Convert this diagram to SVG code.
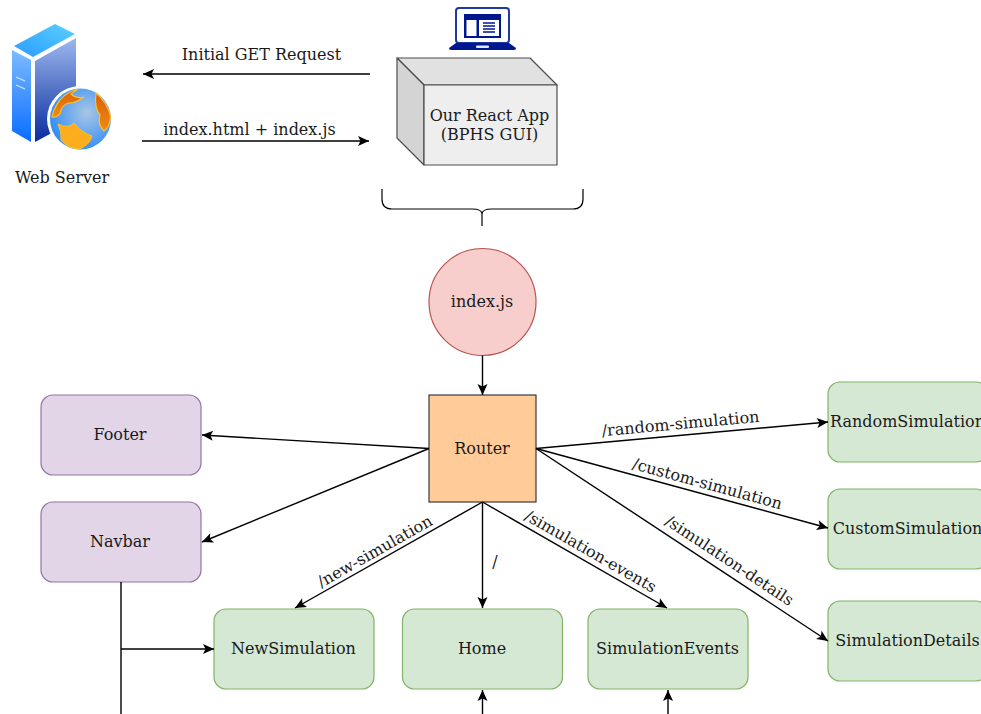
<svg xmlns="http://www.w3.org/2000/svg" width="981" height="714" viewBox="0 0 981 714">
<style>
text{font-family:"DejaVu Serif","Liberation Serif",serif;font-size:16px;fill:#1a1a1a;text-anchor:middle}
.c{fill:none;stroke:#000;stroke-width:1.4;marker-end:url(#a)}
.g{fill:#d5e8d4;stroke:#82b366;stroke-width:1.2}
.p{fill:#e1d5e7;stroke:#9673a6;stroke-width:1.2}
</style>
<defs>
<marker id="a" markerUnits="userSpaceOnUse" markerWidth="14" markerHeight="12" refX="12" refY="6" orient="auto"><path d="M1 1 L12 6 L1 11 L3.5 6 Z" fill="#000"/></marker>
<linearGradient id="s1" x1="0" y1="0" x2="0" y2="1"><stop offset="0" stop-color="#7cbcff"/><stop offset="1" stop-color="#0a6cff"/></linearGradient>
<linearGradient id="s2" x1="0" y1="0" x2="0" y2="1"><stop offset="0" stop-color="#9db8ee"/><stop offset="1" stop-color="#082c9e"/></linearGradient>
<linearGradient id="s3" x1="0" y1="1" x2="1" y2="0"><stop offset="0" stop-color="#2a9bff"/><stop offset="1" stop-color="#5cd0ff"/></linearGradient>
<radialGradient id="g1" cx="0.6" cy="0.4" r="0.65"><stop offset="0" stop-color="#a9c6e4"/><stop offset="1" stop-color="#2f8cf5"/></radialGradient>
<linearGradient id="g2" x1="0" y1="0" x2="0" y2="1"><stop offset="0" stop-color="#d9600c"/><stop offset="1" stop-color="#f08a10"/></linearGradient>
</defs>

<g id="web-server">
<path d="M14 46 L55 24 L75 34 L33 57 Z" fill="url(#s3)"/>
<path d="M12 50 L31 60 L31 142 L12 131 Z" fill="url(#s1)"/>
<path d="M35 61 L76 38 L76 120 L35 142 Z" fill="url(#s2)"/>
<path d="M16 77 L25 81 M16 85 L25 89" stroke="#cfe4ff" stroke-width="1.3" fill="none"/>
<circle cx="80" cy="119" r="33" fill="#fff"/>
<circle cx="80.500" cy="119" r="30.500" fill="url(#g1)"/>
<path d="M56 106 Q63 93 78 89 L71 94 Q76 99 84 97 Q74 104 68 103 Q61 106 60 114 Q56 118 52 117 Q53 111 56 106 Z" fill="url(#g2)" stroke="#fbc02d" stroke-width="1.200"/>
<path d="M96 93 Q107 102 110.500 116 Q110 127 104 131 Q97 124 100 115 Q94 108 96 93 Z" fill="url(#g2)" stroke="#fbc02d" stroke-width="1.200"/>
<path d="M58 124 Q68 129 74 123 Q82 133 92 136 Q90 144 80 149 Q68 149 61 140 Q62 132 58 124 Z" fill="#fbad1d" stroke="#fbc02d" stroke-width="1"/>
<text x="62" y="183">Web Server</text>
</g>

<g id="laptop">
<rect x="456" y="8" width="53" height="35" rx="3" fill="#fff" stroke="#1d3a9e" stroke-width="2"/>
<rect x="464" y="14" width="37" height="24" fill="#00188f"/>
<rect x="466.500" y="20" width="10" height="16" fill="#fff"/>
<rect x="479" y="20" width="20" height="16" fill="#fff"/>
<path d="M483 23 H495 M483 26 H495 M483 29 H495 M483 32 H495" stroke="#00188f" stroke-width="1.500"/>
<path d="M456 43 H509 L516 48 Q516 50 514 50 H451 Q449 50 449 48 Z" fill="#00188f"/>
<rect x="476" y="45.500" width="13" height="2.500" rx="1" fill="#dfe6f5"/>
</g>

<g id="react-app" stroke="#4d4d4d" stroke-width="1.200" stroke-linejoin="round">
<path d="M397 58 H530 L557 85 H424 Z" fill="#e1e1e1"/>
<path d="M397 58 L424 85 V165 L397 138 Z" fill="#d4d4d4"/>
<rect x="424" y="85" width="133" height="80" fill="#eeeeee"/>
<text x="489.500" y="121" stroke="none">Our React App</text>
<text x="489.500" y="140" stroke="none">(BPHS GUI)</text>
</g>

<g id="brace"><path d="M382 189 V199 Q382 209 392 209 H472 Q482 209 482 214 V226 M482 214 Q482 209 492 209 H573 Q583 209 583 199 V189" fill="none" stroke="#000" stroke-width="1.200"/></g>

<g id="index-js"><circle cx="482.500" cy="302" r="53.500" fill="#f8cecc" stroke="#b85450" stroke-width="1.200"/><text x="482" y="307">index.js</text></g>
<g id="router"><rect x="429" y="395" width="107" height="107" fill="#ffcc99" stroke="#36393d" stroke-width="1.200"/><text x="482" y="454">Router</text></g>
<g id="footer"><rect class="p" x="41" y="395" width="160" height="80" rx="12"/><text x="120" y="440">Footer</text></g>
<g id="navbar"><rect class="p" x="41" y="502" width="160" height="80" rx="12"/><text x="120" y="547">Navbar</text></g>
<g id="new-simulation"><rect class="g" x="214" y="609" width="160" height="80" rx="12"/><text x="293.500" y="654">NewSimulation</text></g>
<g id="home"><rect class="g" x="402.500" y="609" width="160" height="80" rx="12"/><text x="482" y="654">Home</text></g>
<g id="simulation-events"><rect class="g" x="588" y="609" width="160" height="80" rx="12"/><text x="667.500" y="654">SimulationEvents</text></g>
<g id="random-simulation"><rect class="g" x="828" y="382" width="160" height="80" rx="12"/><text x="907.500" y="427">RandomSimulation</text></g>
<g id="custom-simulation"><rect class="g" x="828" y="489" width="160" height="80" rx="12"/><text x="907.500" y="534">CustomSimulation</text></g>
<g id="simulation-details"><rect class="g" x="828" y="601" width="160" height="80" rx="12"/><text x="907.500" y="646">SimulationDetails</text></g>

<g id="connectors">
<path class="c" d="M370 74 H143"/>
<path class="c" d="M142 141 H369"/>
<path class="c" d="M482.500 355.500 V395"/>
<path class="c" d="M429 448.500 L202 435"/>
<path class="c" d="M429 448.500 L202 542"/>
<path class="c" d="M536 448.500 L828 422"/>
<path class="c" d="M536 448.500 L828 528"/>
<path class="c" d="M536 448.500 L828 641"/>
<path class="c" d="M482.500 502 L295 608"/>
<path class="c" d="M482.500 502 V608"/>
<path class="c" d="M482.500 502 L667 608"/>
<path d="M121 582 V714" fill="none" stroke="#000" stroke-width="1.400"/>
<path class="c" d="M121 649 H214"/>
<path class="c" d="M482.500 714 V690"/>
<path class="c" d="M668 714 V690"/>
</g>

<g id="labels">
<text x="261.500" y="60">Initial GET Request</text>
<text x="249.500" y="135">index.html + index.js</text>
<text transform="translate(681,429) rotate(-5.200)">/random-simulation</text>
<text transform="translate(706,489) rotate(15.300)">/custom-simulation</text>
<text transform="translate(726.500,565) rotate(33.500)">/simulation-details</text>
<text transform="translate(588,556) rotate(29.900)">/simulation-events</text>
<text transform="translate(377.500,556) rotate(-29.500)">/new-simulation</text>
<text x="495" y="567">/</text>
</g>
</svg>
